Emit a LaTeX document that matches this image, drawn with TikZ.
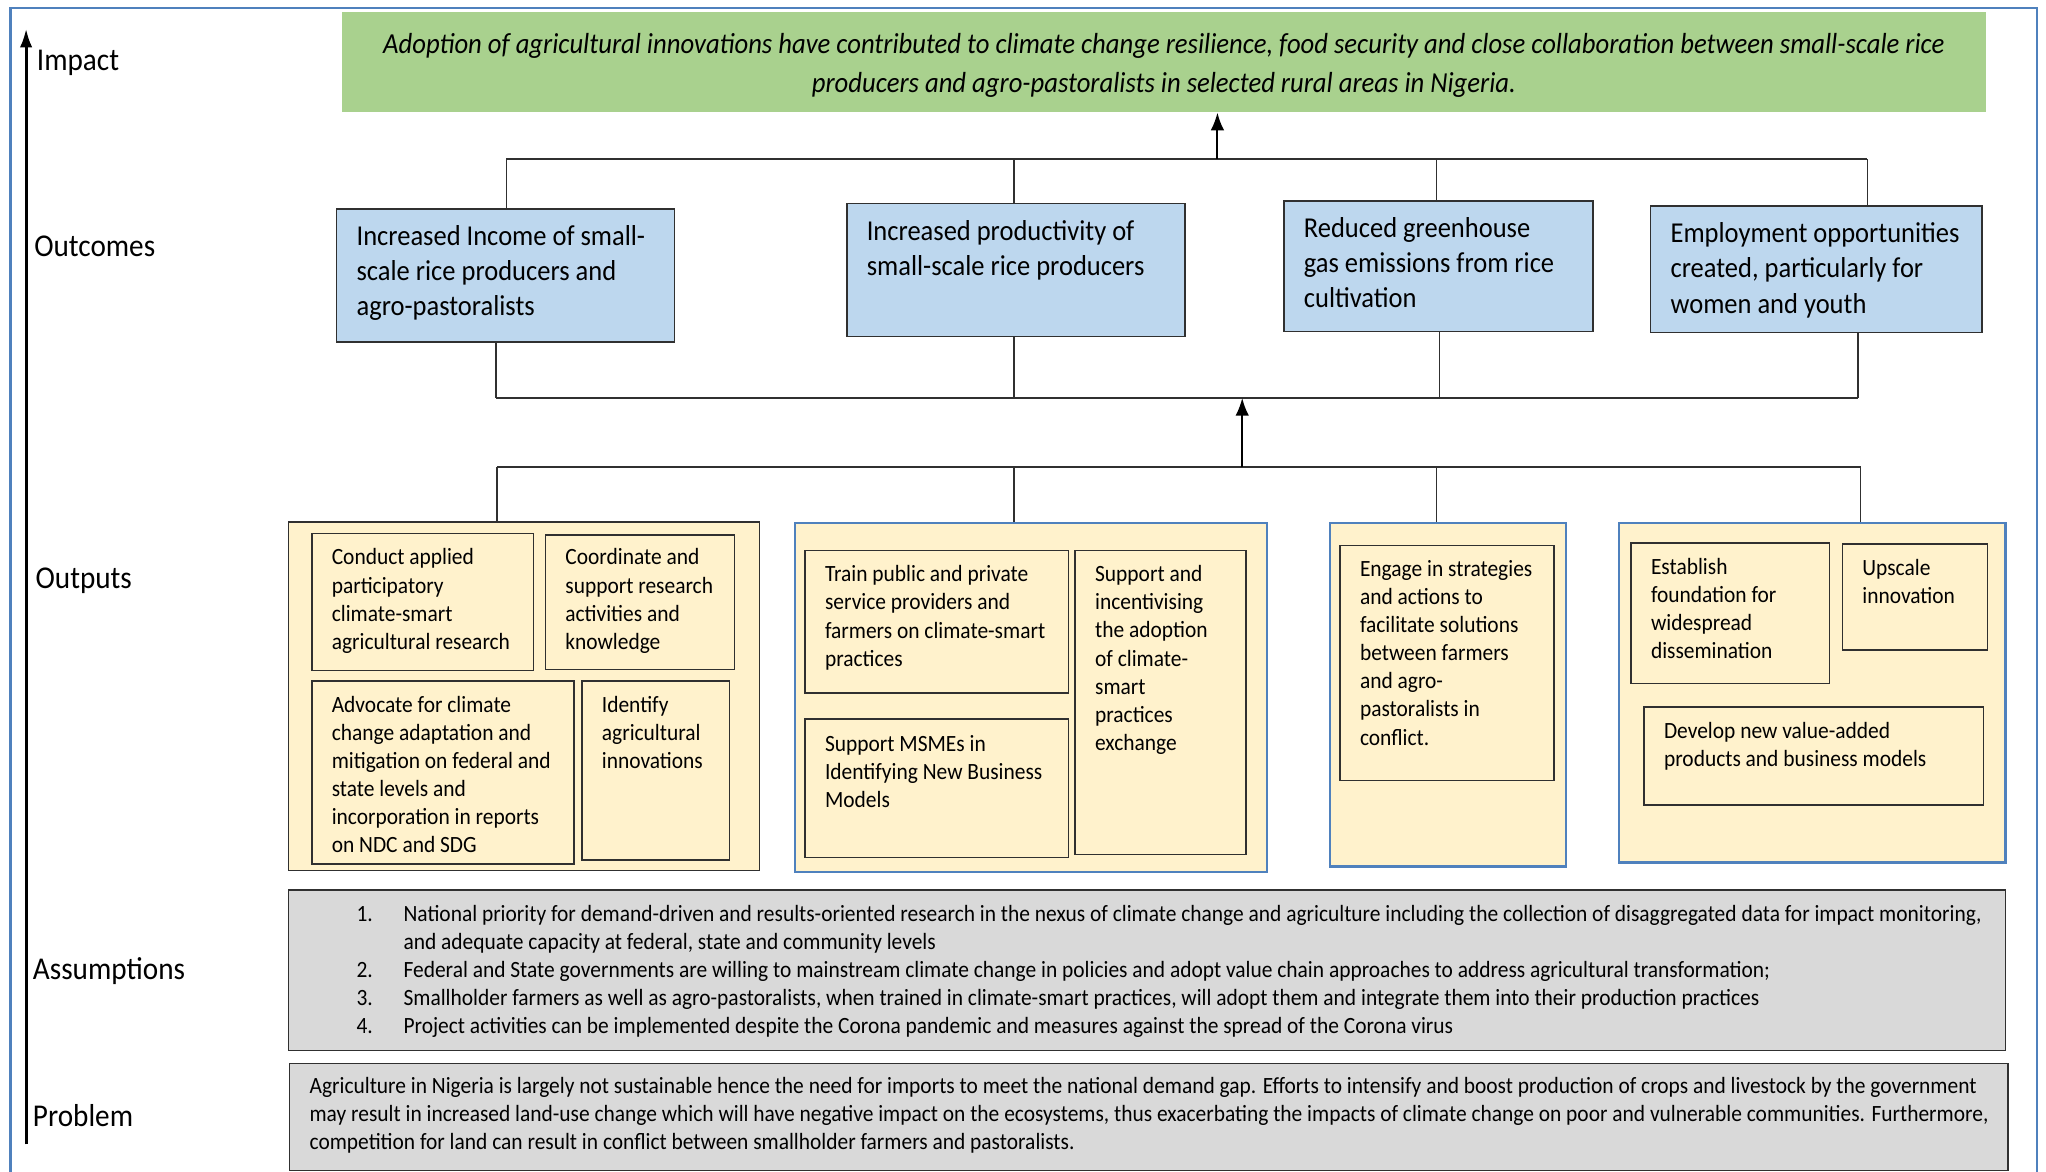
\documentclass[tikz,border=0pt]{standalone}
\usepackage{fontspec}
\setmainfont{Carlito}[FakeStretch=0.92]
\usetikzlibrary{positioning,fit,arrows.meta}
\definecolor{impactgreen}{HTML}{A9D18E}
\definecolor{outcomeblue}{HTML}{BDD7EE}
\definecolor{outputyellow}{HTML}{FFF2CC}
\definecolor{assumgray}{HTML}{D9D9D9}
\definecolor{frameblue}{HTML}{4F81BD}
\definecolor{edgegray}{HTML}{303030}

\begin{document}
\begin{tikzpicture}[x=0.025cm,y=-0.025cm,
    level/.style={anchor=west,inner sep=0,font=\fontsize{17.3}{21}\selectfont},
    impactbox/.style={fill=impactgreen,inner sep=0},
    outcomebox/.style={draw=edgegray,fill=outcomeblue,line width=0.8pt,inner sep=0},
    groupbox/.style={draw=frameblue,fill=outputyellow,line width=1.2pt,inner sep=0},
    outputbox/.style={draw=edgegray,line width=0.8pt,inner sep=0},
    greybox/.style={draw=edgegray,fill=assumgray,line width=0.8pt,inner sep=0},
    bigtext/.style={anchor=base west,align=left,inner sep=0,font=\fontsize{15.7}{19.2}\selectfont},
    smalltext/.style={anchor=base west,align=left,inner sep=0,font=\fontsize{12.7}{15.3}\selectfont},
    link/.style={draw=edgegray,line width=0.8pt},
    uparrow/.style={-{Latex[length=3.4mm,width=2.6mm]},line width=1.1pt}]
    \useasboundingbox (0,0) rectangle (1568,898);

    % Frame and axis
    \draw[draw=frameblue,line width=1.2pt] (8,6) rectangle (1561,920);
    \coordinate (axbot) at (20,877);
    \coordinate (axtop) at (20,22);
    \draw[-{Latex[length=3.6mm,width=2.4mm]},line width=1.6pt] (axbot) -- (axtop);
    \node[level] (limpact) at (28,48) {Impact};
    \node[level] (loutcomes) at (26,189) {Outcomes};
    \node[level] (loutputs) at (27,445) {Outputs};
    \node[level] (lassum) at (25,744) {Assumptions};
    \node[level] (lproblem) at (25,855) {Problem};

    % Impact
    \node[impactbox,fit={(262,9) (1522,86)}] (impact) {};
    \node[anchor=base,align=center,inner sep=0,font=\itshape\fontsize{15.8}{21.3}\selectfont] (impacttxt) at (892,71)
        {Adoption of agricultural innovations have contributed to climate change resilience, food security and close collaboration between small-scale rice\\
         producers and agro-pastoralists in selected rural areas in Nigeria.};

    % Outcomes
    \node[outcomebox,fit={(258,160) (517,262)}] (oc1) {};
    \node[outcomebox,fit={(649,156) (908,258)}] (oc2) {};
    \node[outcomebox,fit={(984,154) (1221,254)}] (oc3) {};
    \node[outcomebox,fit={(1265,158) (1519,255)}] (oc4) {};
    \node[bigtext] (oc1t) at (273,242) {Increased Income of small-\\scale rice producers and\\agro-pastoralists};
    \node[bigtext] (oc2t) at (664,211) {Increased productivity of\\small-scale rice producers};
    \node[bigtext] (oc3t) at (999,236) {Reduced greenhouse\\gas emissions from rice\\cultivation};
    \node[bigtext] (oc4t) at (1280,240) {Employment opportunities\\created, particularly for\\women and youth};

    % Outcomes -> impact
    \coordinate (ta) at (388,122);
    \coordinate (tb) at (777,122);
    \coordinate (tc) at (1101,122);
    \coordinate (td) at (1431,122);
    \draw[link] (ta) -- (td);
    \foreach \c/\b in {ta/oc1,tb/oc2,tc/oc3,td/oc4}
        \draw[link] (\c) -- (\c |- \b.north);
    \coordinate (upa) at (933,122);
    \draw[uparrow] (upa) -- (upa |- impact.south);

    % Outcomes -> bus below
    \coordinate (ma) at (380,305);
    \coordinate (mb) at (777,305);
    \coordinate (mc) at (1103,305);
    \coordinate (md) at (1424,305);
    \draw[link] (ma) -- (md);
    \foreach \c/\b in {ma/oc1,mb/oc2,mc/oc3,md/oc4}
        \draw[link] (\c) -- (\c |- \b.south);

    % Outputs
    \node[groupbox,draw=edgegray,line width=0.8pt,fit={(221,400) (582,667)}] (op1) {};
    \node[groupbox,fit={(609,401) (971,668)}] (op2) {};
    \node[groupbox,fit={(1019,401) (1200,664)}] (op3) {};
    \node[groupbox,fit={(1241,401) (1537,661)}] (op4) {};

    \coordinate (ba) at (381,358);
    \coordinate (bb) at (777,358);
    \coordinate (bc) at (1101,358);
    \coordinate (bd) at (1426,358);
    \draw[link] (ba) -- (bd);
    \foreach \c/\b in {ba/op1,bb/op2,bc/op3,bd/op4}
        \draw[link] (\c) -- (\c |- \b.north);
    \coordinate (upb) at (952,358);
    \draw[uparrow] (upb) -- (upb |- ma);

    % Group 1
    \node[outputbox,fit={(239,409) (409,514)}] (op1a) {};
    \node[outputbox,fit={(418,410) (563,513)}] (op1b) {};
    \node[outputbox,fit={(239,522) (440,662)}] (op1c) {};
    \node[outputbox,fit={(446,522) (559,659)}] (op1d) {};
    \node[smalltext] at (254,497.5) {Conduct applied\\participatory\\climate-smart\\agricultural research};
    \node[smalltext] at (433,497.5) {Coordinate and\\support research\\activities and\\knowledge};
    \node[smalltext] at (254,653.5) {Advocate for climate\\change adaptation and\\mitigation on federal and\\state levels and\\incorporation in reports\\on NDC and SDG};
    \node[smalltext] at (461,589) {Identify\\agricultural\\innovations};

    % Group 2
    \node[outputbox,fit={(617,422) (819,531)}] (op2a) {};
    \node[outputbox,fit={(617,551) (819,657)}] (op2b) {};
    \node[outputbox,fit={(824,422) (955,655)}] (op2c) {};
    \node[smalltext] at (632,510.5) {Train public and private\\service providers and\\farmers on climate-smart\\practices};
    \node[smalltext] at (632,619) {Support MSMEs in\\Identifying New Business\\Models};
    \node[smalltext] at (839,575) {Support and\\incentivising\\the adoption\\of climate-\\smart\\practices\\exchange};

    % Group 3
    \node[outputbox,fit={(1027,418) (1191,598)}] (op3a) {};
    \node[smalltext] at (1042,571) {Engage in strategies\\and actions to\\facilitate solutions\\between farmers\\and agro-\\pastoralists in\\conflict.};

    % Group 4
    \node[outputbox,fit={(1250,416) (1402,524)}] (op4a) {};
    \node[outputbox,fit={(1412,417) (1523,498)}] (op4b) {};
    \node[outputbox,fit={(1260,542) (1520,617)}] (op4c) {};
    \node[smalltext] at (1265,504.5) {Establish\\foundation for\\widespread\\dissemination};
    \node[smalltext] at (1427,462.5) {Upscale\\innovation};
    \node[smalltext] at (1275,587.5) {Develop new value-added\\products and business models};

    % Assumptions
    \node[greybox,fit={(221,682) (1537,805)}] (assum) {};
    \node[smalltext] (assumt) at (273,792)
        {\makebox[0.9cm][l]{1.}National priority for demand-driven and results-oriented research in the nexus of climate change and agriculture including the collection of disaggregated data for impact monitoring,\\
         \hspace*{0.9cm}and adequate capacity at federal, state and community levels\\
         \makebox[0.9cm][l]{2.}Federal and State governments are willing to mainstream climate change in policies and adopt value chain approaches to address agricultural transformation;\\
         \makebox[0.9cm][l]{3.}Smallholder farmers as well as agro-pastoralists, when trained in climate-smart practices, will adopt them and integrate them into their production practices\\
         \makebox[0.9cm][l]{4.}Project activities can be implemented despite the Corona pandemic and measures against the spread of the Corona virus};

    % Problem
    \node[greybox,fit={(222,815) (1539,897)}] (problem) {};
    \node[smalltext] (problemt) at (237,881)
        {Agriculture in Nigeria is largely not sustainable hence the need for imports to meet the national demand gap. Efforts to intensify and boost production of crops and livestock by the government\\
         may result in increased land-use change which will have negative impact on the ecosystems, thus exacerbating the impacts of climate change on poor and vulnerable communities. Furthermore,\\
         competition for land can result in conflict between smallholder farmers and pastoralists.};
\end{tikzpicture}
\end{document}
